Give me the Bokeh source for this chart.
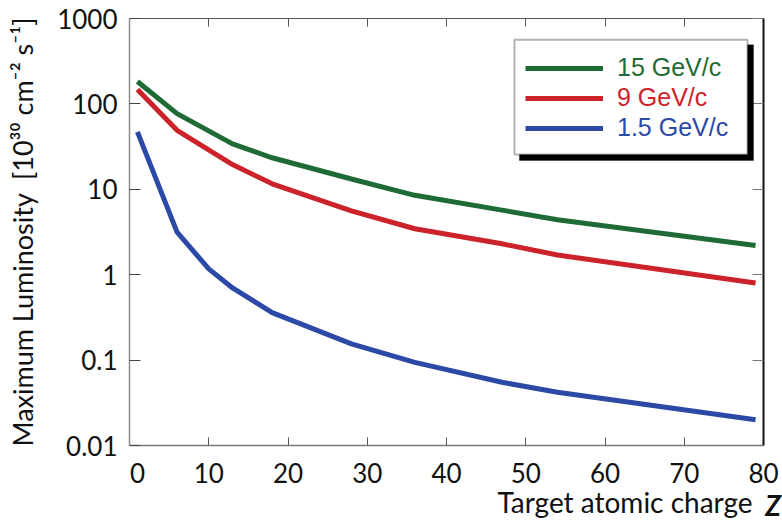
from bokeh.plotting import figure
from bokeh.models import (Range1d, FixedTicker, LinearAxis, LogAxis, CustomJSTickFormatter,
                          Legend, LegendItem, BoxAnnotation)
from bokeh.embed import file_html
from bokeh.resources import INLINE

# ---- data ----
z_hi = [1, 6, 13, 18, 28, 36, 47, 54, 79]
lum_15 = [183, 77, 34, 23.4, 13.2, 8.5, 5.7, 4.4, 2.2]
lum_9 = [147, 49, 19.5, 11.6, 5.6, 3.45, 2.3, 1.7, 0.8]
z_lo = [1, 6, 10, 13, 18, 28, 36, 47, 54, 79]
lum_1_5 = [47, 3.15, 1.17, 0.70, 0.36, 0.155, 0.094, 0.055, 0.042, 0.020]

x_ticks = [0, 10, 20, 30, 40, 50, 60, 70, 80]
y_ticks = [0.01, 0.1, 1, 10, 100, 1000]
series_labels = ["15 GeV/c", "9 GeV/c", "1.5 GeV/c"]
series_colors = ["#1f6b36", "#cc2229", "#2c49a6"]

TICK_FONT = "Lato"

p = figure(width=782, height=527, y_axis_type="log", output_backend="svg",
           toolbar_location=None, x_range=Range1d(0, 80), y_range=Range1d(0.01, 1000),
           min_border_left=129, min_border_right=19, min_border_top=18, min_border_bottom=82)
p.grid.visible = False
p.outline_line_color = None
p.background_fill_color = "white"
p.border_fill_color = "white"

xtick = FixedTicker(ticks=x_ticks)
ytick = FixedTicker(ticks=y_ticks)
xfmt = CustomJSTickFormatter(code="return tick == 0 ? '\\u2002\\u20090' : String(tick);")
yfmt = CustomJSTickFormatter(code="return String(tick);")
blank = CustomJSTickFormatter(code="return '';")

xa = p.xaxis[0]
xa.ticker = xtick
xa.formatter = xfmt
xa.major_tick_in = 8
xa.major_tick_out = 0
xa.minor_tick_in = 0
xa.minor_tick_out = 0
xa.axis_line_color = "#7a7a7a"
xa.axis_line_width = 1.5
xa.major_tick_line_color = "#555555"
xa.major_label_text_font = TICK_FONT
xa.major_label_text_font_size = "26px"
xa.major_label_text_color = "#111111"
xa.major_label_standoff = 11
# title centred on the frame, shifted right by leading em spaces so it ends before "Z"
xa.axis_label = "\u2003" * 17 + "Target atomic charge"
xa.axis_label_text_font = TICK_FONT
xa.axis_label_text_font_style = "normal"
xa.axis_label_text_font_size = "28px"
xa.axis_label_text_color = "#111111"
xa.axis_label_standoff = -7

ya = p.yaxis[0]
ya.ticker = ytick
ya.formatter = yfmt
ya.major_tick_in = 11
ya.major_tick_out = 0
ya.minor_tick_in = 0
ya.minor_tick_out = 0
ya.axis_line_color = "#8c8c8c"
ya.axis_line_width = 1.5
ya.major_tick_line_color = "#444444"
ya.major_label_text_font = TICK_FONT
ya.major_label_text_font_size = "26px"
ya.major_label_text_color = "#111111"
ya.major_label_standoff = 12
ya.axis_label = "Maximum Luminosity\u00a0\u00a0[10³⁰ cm⁻² s⁻¹]"
ya.axis_label_text_font = TICK_FONT
ya.axis_label_text_font_style = "normal"
ya.axis_label_text_font_size = "27px"
ya.axis_label_text_color = "#111111"
ya.axis_label_standoff = 15

top = LinearAxis(ticker=xtick, formatter=blank, major_tick_in=8, major_tick_out=0,
                 minor_tick_in=0, minor_tick_out=0, axis_line_color="#555555",
                 axis_line_width=1, major_tick_line_color="#555555",
                 major_label_standoff=0)
p.add_layout(top, "above")
right = LogAxis(ticker=ytick, formatter=blank, major_tick_in=11, major_tick_out=0,
                minor_tick_in=0, minor_tick_out=0, axis_line_color="#111111",
                axis_line_width=2, major_tick_line_color="#777777",
                major_label_standoff=0)
p.add_layout(right, "right")

# second, invisible bottom axis that only carries the bold italic "Z",
# pulled up onto the same line as the title
zaxis = LinearAxis(ticker=FixedTicker(ticks=[]), formatter=blank,
                   axis_line_color=None, major_tick_line_color=None,
                   minor_tick_line_color=None, major_tick_in=0, major_tick_out=0,
                   minor_tick_in=0, minor_tick_out=0, major_label_standoff=0,
                   axis_label="\u2003Z", axis_label_text_font=TICK_FONT,
                   axis_label_text_font_size="28px", axis_label_text_font_style="bold italic",
                   axis_label_text_color="#111111", axis_label_standoff=-34,
                   axis_label_align="end")
p.add_layout(zaxis, "below")

r15 = p.line(z_hi, lum_15, line_color=series_colors[0], line_width=5)
r9 = p.line(z_hi, lum_9, line_color=series_colors[1], line_width=5)
r15b = p.line(z_lo, lum_1_5, line_color=series_colors[2], line_width=5)

# legend box with drop shadow
p.add_layout(BoxAnnotation(left=49.2, right=78.74, top=492, bottom=21.7,
                           fill_color="black", fill_alpha=1, line_color="black"))
p.add_layout(BoxAnnotation(left=48.58, right=77.98, top=563, bottom=25.6,
                           fill_color="white", fill_alpha=1, line_color="black", line_width=2))

rows_vy = [363, 333, 303]
for lab, col, r, vy in zip(series_labels, series_colors, [r15, r9, r15b], rows_vy):
    lg = Legend(items=[LegendItem(label=lab, renderers=[r])], location=(396, vy),
                label_text_color=col, label_text_font="Liberation Sans",
                label_text_font_size="25px", glyph_width=78, glyph_height=20,
                label_height=20, label_standoff=14, padding=0, margin=0,
                border_line_color=None, background_fill_alpha=0, spacing=0)
    p.add_layout(lg, "center")

open("out.html", "w").write(file_html(p, INLINE))
